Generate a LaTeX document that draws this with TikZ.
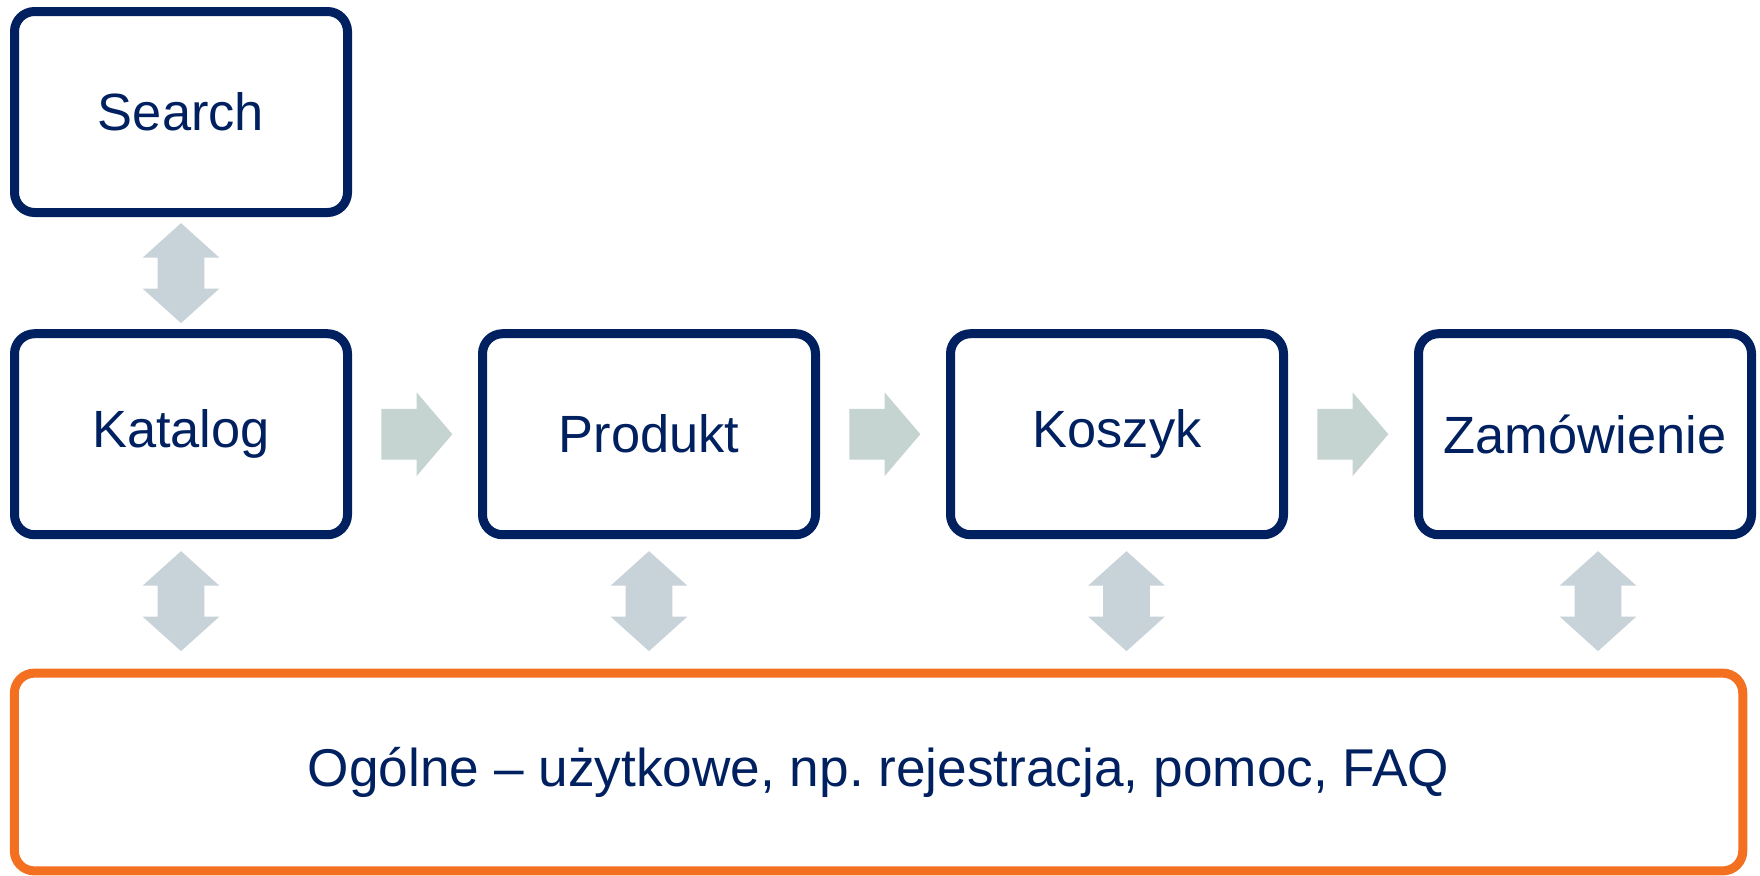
\documentclass[tikz,border=0pt]{standalone}
\usepackage{fontspec}
\setmainfont{Liberation Sans}
\usepackage{tikz}
\usetikzlibrary{positioning,shapes.arrows}
\definecolor{navy}{RGB}{0,32,96}
\definecolor{accent}{RGB}{243,112,33}
\definecolor{linkgray}{RGB}{200,211,217}
\definecolor{flowgray}{RGB}{197,211,209}

\begin{document}
\begin{tikzpicture}[
  node distance=60.6pt and 67.5pt,
  box/.style={draw=navy, line width=4.5pt, rounded corners=10pt,
    minimum width=166.5pt, minimum height=100.5pt, outer sep=0pt,
    inner sep=0pt, text=navy, font=\fontsize{26.2}{31}\selectfont},
  bottombox/.style={box, draw=accent, minimum width=864.2pt, minimum height=98.9pt,
    font=\fontsize{26.6}{32}\selectfont},
  flow/.style={single arrow, fill=flowgray, draw=none, inner xsep=0pt, inner ysep=12.5pt,
    minimum height=35.5pt, minimum width=41.5pt, xshift=-4.5pt,
    single arrow head extend=8.25pt, single arrow tip angle=99},
  link/.style={double arrow, fill=linkgray, draw=none, inner xsep=0pt, inner ysep=11.5pt,
    rotate=90, minimum height=50pt, minimum width=38pt,
    double arrow head extend=7.5pt, double arrow tip angle=96}
]
\useasboundingbox (0,0) rectangle (880pt,-437.5pt);
\node[box] (katalog) at (90.5pt,-217.1pt) {Katalog};
\node[box, above=of katalog] (search) {Search};
\node[box, right=of katalog] (produkt) {Produkt};
\node[box, right=of produkt] (koszyk) {Koszyk};
\node[box, right=of koszyk] (zamowienie) {Zamówienie};
\node[bottombox] (ogolne) at (439.3pt,-386pt) {Ogólne – użytkowe, np.\ rejestracja, pomoc, FAQ};

% flow arrows
\path (katalog.east) -- (produkt.west) node[midway, flow] (f1) {};
\path (produkt.east) -- (koszyk.west) node[midway, flow] (f2) {};
\path (koszyk.east) -- (zamowienie.west) node[midway, flow] (f3) {};

% two-way links
\path (search.south) -- (katalog.north) node[midway, link] (l0) {};
\path (katalog.south) -- (katalog.south |- ogolne.north) node[pos=0.48, link] (l1) {};
\path (produkt.south) -- (produkt.south |- ogolne.north) node[pos=0.48, link] (l2) {};
\path ([xshift=4.75pt]koszyk.south) -- ([xshift=4.75pt]koszyk.south |- ogolne.north) node[pos=0.48, link] (l3) {};
\path ([xshift=6.5pt]zamowienie.south) -- ([xshift=6.5pt]zamowienie.south |- ogolne.north) node[pos=0.48, link] (l4) {};
\end{tikzpicture}
\end{document}
